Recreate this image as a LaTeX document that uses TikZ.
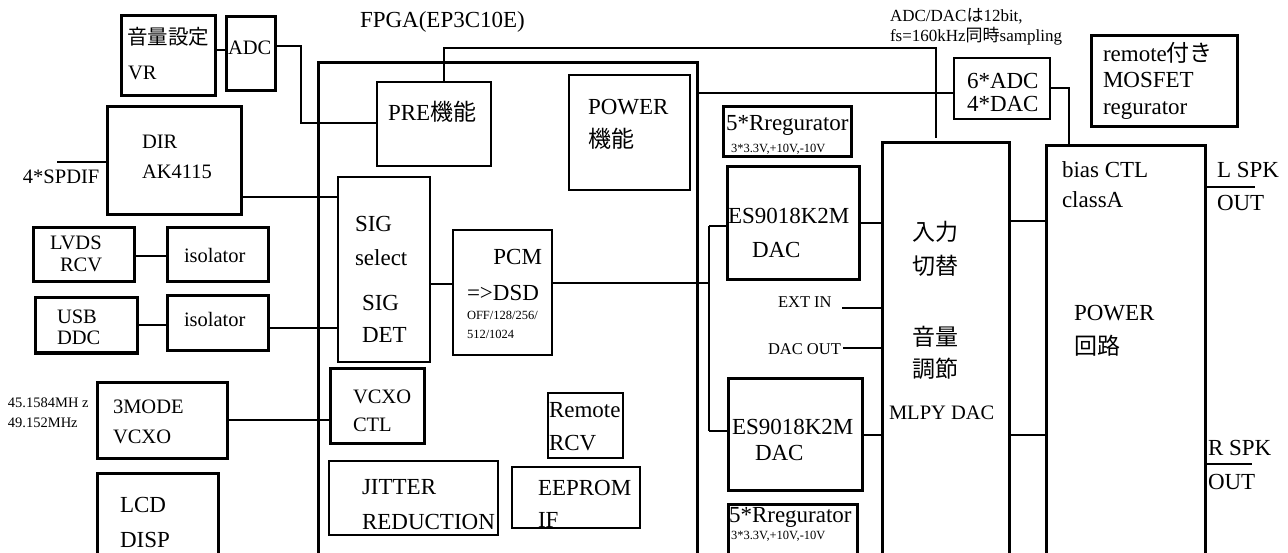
\documentclass[tikz,border=0pt]{standalone}
\usepackage{fontspec}
\setmainfont{Liberation Serif}
\newfontfamily\jp{Noto Sans CJK JP}
\newcommand\fM{\fontsize{23}{27}\selectfont}
\newcommand\fN{\fontsize{20.5}{24}\selectfont}
\newcommand\fA{\fontsize{17}{20}\selectfont}
\newcommand\fE{\fontsize{16.5}{19}\selectfont}
\newcommand\fF{\fontsize{14.5}{17}\selectfont}
\newcommand\fS{\fontsize{12.5}{15}\selectfont}
\newcommand\mkbx[6][]{\node[bx,#1,minimum width={(#5)-(#3)},minimum height={(#6)-(#4)}] (#2) at ({((#3)+(#5))/2},{((#4)+(#6))/2}) {};}
\tikzset{
  bx/.style={draw, rectangle, line width=3pt, inner sep=0pt, outer sep=0pt},
  bthin/.style={line width=2pt},
  wire/.style={line width=2.6pt},
  L/.style={anchor=west, inner sep=0pt, outer sep=0pt, text height=15.2pt, text depth=0pt, font=\fM},
  LN/.style={anchor=west, inner sep=0pt, outer sep=0pt, text height=13.5pt, text depth=0pt, font=\fN},
  LA/.style={anchor=west, inner sep=0pt, outer sep=0pt, text height=11.2pt, text depth=0pt, font=\fA},
  LE/.style={anchor=west, inner sep=0pt, outer sep=0pt, text height=10.9pt, text depth=0pt, font=\fE},
  LF/.style={anchor=west, inner sep=0pt, outer sep=0pt, text height=9.6pt, text depth=0pt, font=\fF},
  LS/.style={anchor=west, inner sep=0pt, outer sep=0pt, text height=8.3pt, text depth=0pt, font=\fS},
}
\begin{document}
\begin{tikzpicture}[x=1pt,y=-1pt]
\useasboundingbox (0,0) rectangle (1288,553);
\clip (0,0) rectangle (1288,553);
% boxes
\mkbx{vr}{121}{16}{215}{96}
\mkbx{adc}{226}{17}{275}{91}
\mkbx{dir}{107}{107}{241}{215}
\mkbx{fpga}{318}{63}{697}{575}
\mkbx[bthin]{pre}{377}{82}{491}{166}
\mkbx[bthin]{pow}{569}{75}{690}{190}
\mkbx[bthin]{adcsix}{954}{58}{1050}{119}
\mkbx{remote}{1091}{36}{1237}{127}
\mkbx{regA}{723}{107}{851}{157}
\mkbx{esA}{727}{167}{859}{280}
\mkbx{mix}{882}{143}{1009}{575}
\mkbx{pwr}{1046}{146}{1205}{575}
\mkbx{lvds}{33}{228}{134}{282}
\mkbx{isoA}{167}{228}{268}{282}
\mkbx{usb}{35}{298}{137}{353}
\mkbx{isoB}{167}{296}{268}{351}
\mkbx[bthin]{sig}{338}{177}{430}{362}
\mkbx[bthin]{pcm}{453}{230}{552}{355}
\mkbx{vcxo}{97}{382}{227}{458}
\mkbx{vctl}{330}{368}{424}{443}
\mkbx{lcd}{97}{473}{218}{575}
\mkbx[bthin]{jit}{329}{461}{498}{535}
\mkbx[bthin]{rrcv}{548}{393}{623}{458}
\mkbx[bthin]{eep}{512}{467}{640}{528}
\mkbx{esB}{728}{378}{862}{490}
\mkbx{regB}{728}{504}{857}{575}
% coordinates
\coordinate (k1) at (301,46);
\coordinate (k2) at (301,123);
\coordinate (spd) at (57,162);
\coordinate (p1) at (444,48);
\coordinate (p2) at (936,48);
\coordinate (p3) at (936,138);
\coordinate (d1) at (709,283);
\coordinate (d2) at (709,226);
\coordinate (d3) at (709,431);
\coordinate (a1) at (1069,88);
\coordinate (ext) at (842,308);
\coordinate (dout) at (843,348);
\coordinate (lspk) at (1255,187);
\coordinate (rspk) at (1252,464);
% wires
\draw[wire] (vr.east|-0,50) -- (adc.west|-0,50);
\draw[wire] (adc.east|-k1) -- (k1) -- (k2) -- (pre.west|-k2);
\draw[wire] (spd) -- (dir.west|-spd);
\draw[wire] (dir.east|-0,197) -- (sig.west|-0,197);
\draw[wire] (lvds.east|-0,256) -- (isoA.west|-0,256);
\draw[wire] (usb.east|-0,325) -- (isoB.west|-0,325);
\draw[wire] (isoB.east|-0,328) -- (sig.west|-0,328);
\draw[wire] (sig.east|-0,284) -- (pcm.west|-0,284);
\draw[wire] (pcm.east|-d1) -- (d1);
\draw[wire] (d2) -- (d3);
\draw[wire] (d2) -- (esA.west|-d2);
\draw[wire] (d3) -- (esB.west|-d3);
\draw[wire] (pre.north-|p1) -- (p1) -- (p2) -- (p3);
\draw[wire] (fpga.east|-0,93) -- (adcsix.west|-0,93);
\draw[wire] (adcsix.east|-a1) -- (a1) -- (a1|-pwr.north);
\draw[wire] (esA.east|-0,223) -- (mix.west|-0,223);
\draw[wire] (mix.east|-0,221) -- (pwr.west|-0,221);
\draw[wire] (ext) -- (mix.west|-ext);
\draw[wire] (dout) -- (mix.west|-dout);
\draw[wire] (esB.east|-0,435) -- (mix.west|-0,435);
\draw[wire] (mix.east|-0,435) -- (pwr.west|-0,435);
\draw[wire] (pwr.east|-lspk) -- (lspk);
\draw[wire] (pwr.east|-rspk) -- (rspk);
\draw[wire] (vcxo.east|-0,420) -- (vctl.west|-0,420);
% texts
\node[LN] (t01) at (127,38) {\jp 音量設定};
\node[LN] (t02) at (128,73) {VR};
\node[LN] (t03) at (228,48) {ADC};
\node[L] (t04) at (360,20) {FPGA(EP3C10E)};
\node[L] (t05) at (388,113) {PRE{\jp 機能}};
\node[L] (t06) at (588,107) {POWER};
\node[L] (t07) at (588,140) {\jp 機能};
\node[LA] (t08) at (890,16) {ADC/DAC{\jp は}12bit,};
\node[LA] (t09) at (890,36) {fs=160kHz{\jp 同時}sampling};
\node[L] (t10) at (967,81) {6*ADC};
\node[L] (t11) at (967,104) {4*DAC};
\node[L] (t12) at (1103,54) {remote{\jp 付き}};
\node[L] (t13) at (1103,80) {MOSFET};
\node[L] (t14) at (1103,107) {regurator};
\node[L] (t15) at (726,123) {5*Rregurator};
\node[LS] (t16) at (731,148) {3*3.3V,+10V,-10V};
\node[LN] (t17) at (142,142) {DIR};
\node[LN] (t18) at (142,172) {AK4115};
\node[LN] (t19) at (23,177) {4*SPDIF};
\node[L] (t20) at (1062,170) {bias CTL};
\node[L] (t21) at (1062,200) {classA};
\node[L] (t22) at (1217,170) {L SPK};
\node[L] (t23) at (1217,203) {OUT};
\node[L] (t24) at (355,224) {SIG};
\node[L] (t25) at (355,258) {select};
\node[L] (t26) at (362,303) {SIG};
\node[L] (t27) at (362,335) {DET};
\node[LN] (t28) at (50,243) {LVDS};
\node[LN] (t29) at (60,265) {RCV};
\node[LN] (t30) at (184,256) {isolator};
\node[LN] (t31) at (184,320) {isolator};
\node[LN] (t32) at (57,317) {USB};
\node[LN] (t33) at (57,338) {DDC};
\node[L,anchor=east] (t34) at (542,257) {PCM};
\node[L] (t35) at (467,293) {=>DSD};
\node[LS] (t36) at (467,315) {OFF/128/256/};
\node[LS] (t37) at (467,334) {512/1024};
\node[L] (t38) at (728,216) {ES9018K2M};
\node[L] (t39) at (752,250) {DAC};
\node[L] (t40) at (912,233) {\jp 入力};
\node[L] (t41) at (912,267) {\jp 切替};
\node[L] (t42) at (912,338) {\jp 音量};
\node[L] (t43) at (912,370) {\jp 調節};
\node[LN] (t44) at (889,413) {MLPY DAC};
\node[LE] (t45) at (778,302) {EXT IN};
\node[LE] (t46) at (768,349) {DAC OUT};
\node[L] (t47) at (1074,313) {POWER};
\node[L] (t48) at (1074,347) {\jp 回路};
\node[LF] (t49) at (8,403) {45.1584MH z};
\node[LF] (t50) at (8,423) {49.152MHz};
\node[LN] (t51) at (113,407) {3MODE};
\node[LN] (t52) at (113,437) {VCXO};
\node[LN] (t53) at (353,397) {VCXO};
\node[LN] (t54) at (353,425) {CTL};
\node[L] (t55) at (549,410) {Remote};
\node[L] (t56) at (549,443) {RCV};
\node[L] (t57) at (732,427) {ES9018K2M};
\node[L] (t58) at (755,453) {DAC};
\node[L] (t59) at (1208,448) {R SPK};
\node[L] (t60) at (1208,482) {OUT};
\node[L] (t61) at (120,505) {LCD};
\node[L] (t62) at (120,540) {DISP};
\node[L] (t63) at (362,487) {JITTER};
\node[L] (t64) at (362,522) {REDUCTION};
\node[L] (t65) at (538,488) {EEPROM};
\node[L] (t66) at (538,520) {IF};
\node[L] (t67) at (729,515) {5*Rregurator};
\node[LS] (t68) at (731,535) {3*3.3V,+10V,-10V};
\end{tikzpicture}
\end{document}
